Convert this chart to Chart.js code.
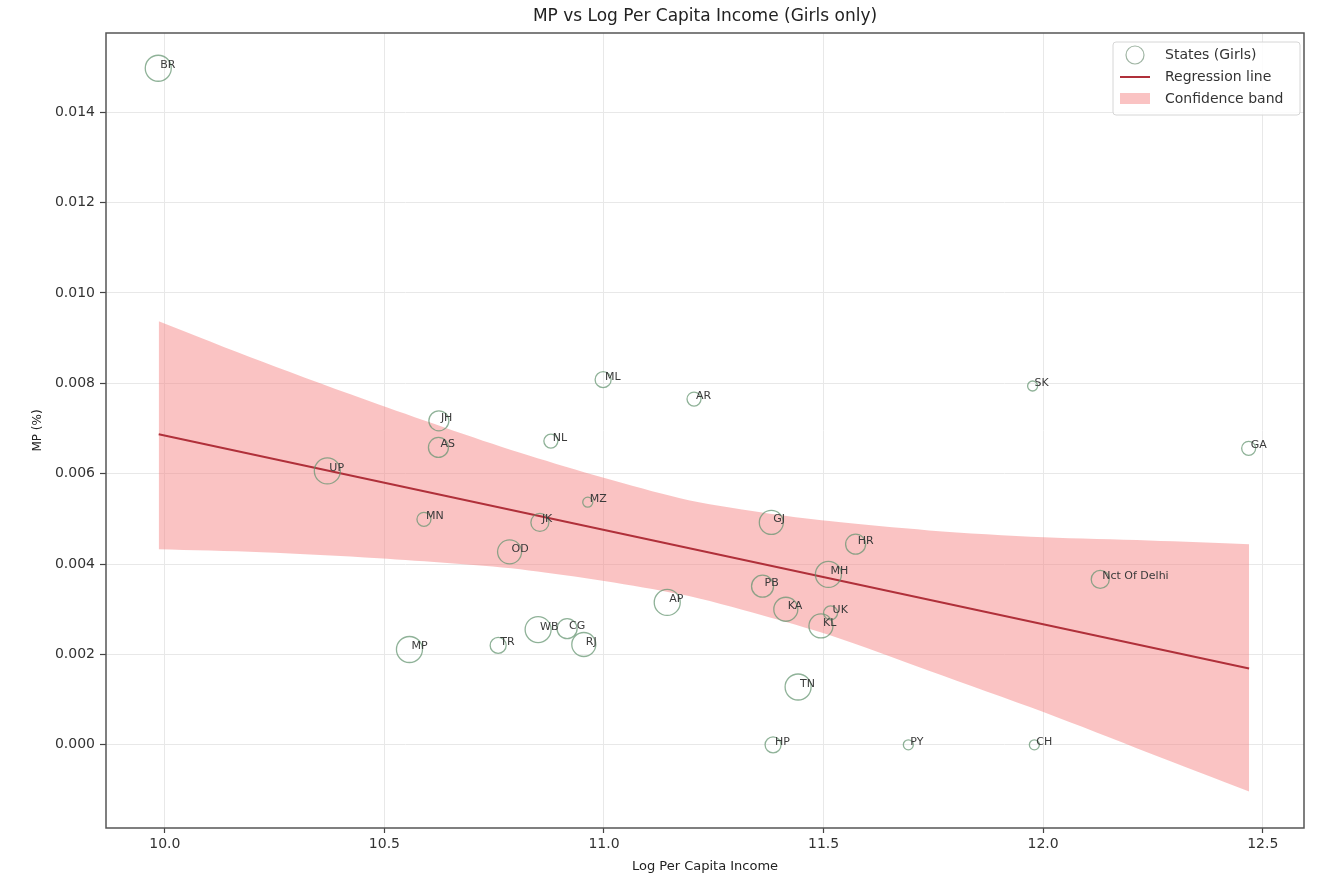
<!DOCTYPE html>
<html>
<head>
<meta charset="utf-8">
<script src="https://cdn.jsdelivr.net/npm/chart.js@4/dist/chart.umd.min.js"></script>
<style>
  html, body { margin: 0; padding: 0; background: #ffffff; }
  #wrap { width: 1319px; height: 876px; }
</style>
</head>
<body>
<div id="wrap"><canvas id="c" width="1319" height="876"></canvas></div>
<script>
// ---- data ----
const chartTitle = 'MP vs Log Per Capita Income (Girls only)';
const stateCodes = ['BR','UP','JH','AS','NL','ML','MN','JK','MZ','OD','AR','GJ','HR','MH','PB','KA','UK','KL','AP','SK','GA','Nct Of Delhi','WB','CG','RJ','TR','MP','TN','HP','PY','CH'];
const logIncome = [9.985,10.370,10.624,10.623,10.879,10.998,10.590,10.854,10.963,10.785,11.205,11.381,11.573,11.511,11.361,11.414,11.516,11.494,11.144,11.976,12.468,12.130,10.850,10.916,10.954,10.759,10.557,11.442,11.385,11.693,11.980];
const mpValues = [0.01497,0.00606,0.00717,0.00658,0.00672,0.00808,0.00499,0.00492,0.00537,0.00427,0.00765,0.00492,0.00444,0.00377,0.00351,0.00300,0.00292,0.00263,0.00315,0.00794,0.00656,0.00366,0.00255,0.00257,0.00222,0.00220,0.00211,0.00128,0.00000,0.00000,0.00000];
const bubbleWeight = [13,13,10,10,7,8,7,9,5,12,7,12,10,13,11,12,7,12,13,5,7,9,13,10,12,8,13,13,8,5,5];

const regX = [9.986, 12.469];
const regY = [0.006873, 0.00169];

const bandX = [9.986,10.221,10.487,10.829,11.171,11.360,11.513,11.740,12.002,12.241,12.469];
const bandUpper = [0.009375,0.008480,0.007530,0.006400,0.005460,0.005140,0.004950,0.004745,0.004591,0.004520,0.004436];
const bandLower = [0.004325,0.004259,0.004126,0.003860,0.003340,0.002870,0.002430,0.001640,0.000720,-0.000180,-0.001034];

const xTickValues = [10.0,10.5,11.0,11.5,12.0,12.5];
const xTickLabels = ['10.0','10.5','11.0','11.5','12.0','12.5'];
const yTickValues = [0.000,0.002,0.004,0.006,0.008,0.010,0.012,0.014];
const yTickLabels = ['0.000','0.002','0.004','0.006','0.008','0.010','0.012','0.014'];

// ---- styles ----
const FONT = "'DejaVu Sans', sans-serif";
const bubbleColor = 'rgba(100,148,112,0.72)';
const regColor = '#b0303a';
const bandColor = 'rgba(244,128,128,0.47)';

const bubbles = stateCodes.map((s, i) => ({ x: logIncome[i], y: mpValues[i], r: bubbleWeight[i], label: s }));
const regLine = regX.map((x, i) => ({ x: x, y: regY[i] }));
const lowerPts = bandX.map((x, i) => ({ x: x, y: bandLower[i] }));
const upperPts = bandX.map((x, i) => ({ x: x, y: bandUpper[i] }));

const pointLabels = {
  id: 'pointLabels',
  afterDatasetsDraw(chart) {
    const meta = chart.getDatasetMeta(0);
    const ctx = chart.ctx;
    ctx.save();
    ctx.font = '11px ' + FONT;
    ctx.fillStyle = '#3a3a3a';
    ctx.textAlign = 'left';
    ctx.textBaseline = 'alphabetic';
    meta.data.forEach((el, i) => {
      ctx.fillText(bubbles[i].label, el.x + 2, el.y);
    });
    ctx.restore();
  }
};

const frameTitleLegend = {
  id: 'frameTitleLegend',
  afterDraw(chart) {
    const ctx = chart.ctx;
    const a = chart.chartArea;
    ctx.save();
    ctx.strokeStyle = '#555';
    ctx.lineWidth = 1.5;
    ctx.strokeRect(a.left, a.top, a.right - a.left, a.bottom - a.top);

    // title centred over the axes
    ctx.fillStyle = '#222';
    ctx.font = '17px ' + FONT;
    ctx.textAlign = 'center';
    ctx.textBaseline = 'middle';
    ctx.fillText(chartTitle, (a.left + a.right) / 2, 17);

    // legend
    const bw = 187, bh = 73;
    const bx = a.right - 4 - bw, by = a.top + 9;
    ctx.beginPath();
    ctx.roundRect(bx, by, bw, bh, 3);
    ctx.fillStyle = 'rgba(255,255,255,0.85)';
    ctx.fill();
    ctx.strokeStyle = '#d6d6d6';
    ctx.lineWidth = 1;
    ctx.stroke();

    const hx = bx + 7, tx = bx + 52;
    ctx.beginPath();
    ctx.arc(hx + 15, by + 13, 9, 0, Math.PI * 2);
    ctx.strokeStyle = 'rgba(120,150,125,0.7)';
    ctx.lineWidth = 1.2;
    ctx.stroke();
    ctx.beginPath();
    ctx.moveTo(hx, by + 35);
    ctx.lineTo(hx + 30, by + 35);
    ctx.strokeStyle = regColor;
    ctx.lineWidth = 2;
    ctx.stroke();
    ctx.fillStyle = bandColor;
    ctx.fillRect(hx, by + 51, 30, 11);

    ctx.fillStyle = '#333';
    ctx.font = '14px ' + FONT;
    ctx.textAlign = 'left';
    ctx.textBaseline = 'middle';
    ctx.fillText('States (Girls)', tx, by + 13);
    ctx.fillText('Regression line', tx, by + 35);
    ctx.fillText('Confidence band', tx, by + 57);
    ctx.restore();
  }
};

new Chart(document.getElementById('c'), {
  type: 'scatter',
  data: {
    datasets: [
      {
        type: 'bubble',
        label: 'States (Girls)',
        data: bubbles,
        backgroundColor: 'rgba(0,0,0,0)',
        borderColor: bubbleColor,
        borderWidth: 1.3,
        order: 0
      },
      {
        type: 'line',
        label: 'Regression line',
        data: regLine,
        borderColor: regColor,
        borderWidth: 2,
        pointRadius: 0,
        showLine: true,
        fill: false,
        order: 1
      },
      {
        type: 'line',
        label: 'band lower',
        data: lowerPts,
        borderWidth: 0,
        borderColor: 'rgba(0,0,0,0)',
        pointRadius: 0,
        showLine: true,
        fill: false,
        tension: 0.3,
        order: 3
      },
      {
        type: 'line',
        label: 'Confidence band',
        data: upperPts,
        borderWidth: 0,
        borderColor: 'rgba(0,0,0,0)',
        backgroundColor: bandColor,
        pointRadius: 0,
        showLine: true,
        fill: '-1',
        tension: 0.3,
        order: 2
      }
    ]
  },
  options: {
    responsive: false,
    animation: false,
    events: [],
    layout: { padding: { left: 0, right: 15, top: 33, bottom: 0 } },
    plugins: {
      legend: { display: false },
      tooltip: { enabled: false },
      title: { display: false }
    },
    scales: {
      x: {
        type: 'linear',
        min: 9.866,
        max: 12.594,
        afterBuildTicks: (s) => { s.ticks = xTickValues.map(v => ({ value: v })); },
        afterFit: (s) => { s.height = 48; },
        ticks: {
          callback: (v, i) => xTickLabels[i],
          color: '#333',
          font: { family: FONT, size: 14 },
          padding: 3,
          maxRotation: 0
        },
        grid: { color: '#e8e8e8', lineWidth: 1, tickLength: 5, tickColor: '#444', tickWidth: 1.2 },
        border: { display: false },
        title: {
          display: true,
          text: 'Log Per Capita Income',
          color: '#222',
          font: { family: FONT, size: 13 },
          padding: { top: 0, bottom: 2 }
        }
      },
      y: {
        type: 'linear',
        min: -0.00184,
        max: 0.01575,
        afterBuildTicks: (s) => { s.ticks = yTickValues.map(v => ({ value: v })); },
        afterFit: (s) => { s.width = 106; },
        ticks: {
          callback: (v, i) => yTickLabels[i],
          color: '#333',
          font: { family: FONT, size: 14 },
          padding: 5
        },
        grid: { color: '#e8e8e8', lineWidth: 1, tickLength: 6, tickColor: '#444', tickWidth: 1.2 },
        border: { display: false },
        title: {
          display: true,
          text: 'MP (%)',
          color: '#222',
          font: { family: FONT, size: 12 },
          padding: { top: 31, bottom: 0 }
        }
      }
    }
  },
  plugins: [pointLabels, frameTitleLegend]
});
</script>
</body>
</html>
